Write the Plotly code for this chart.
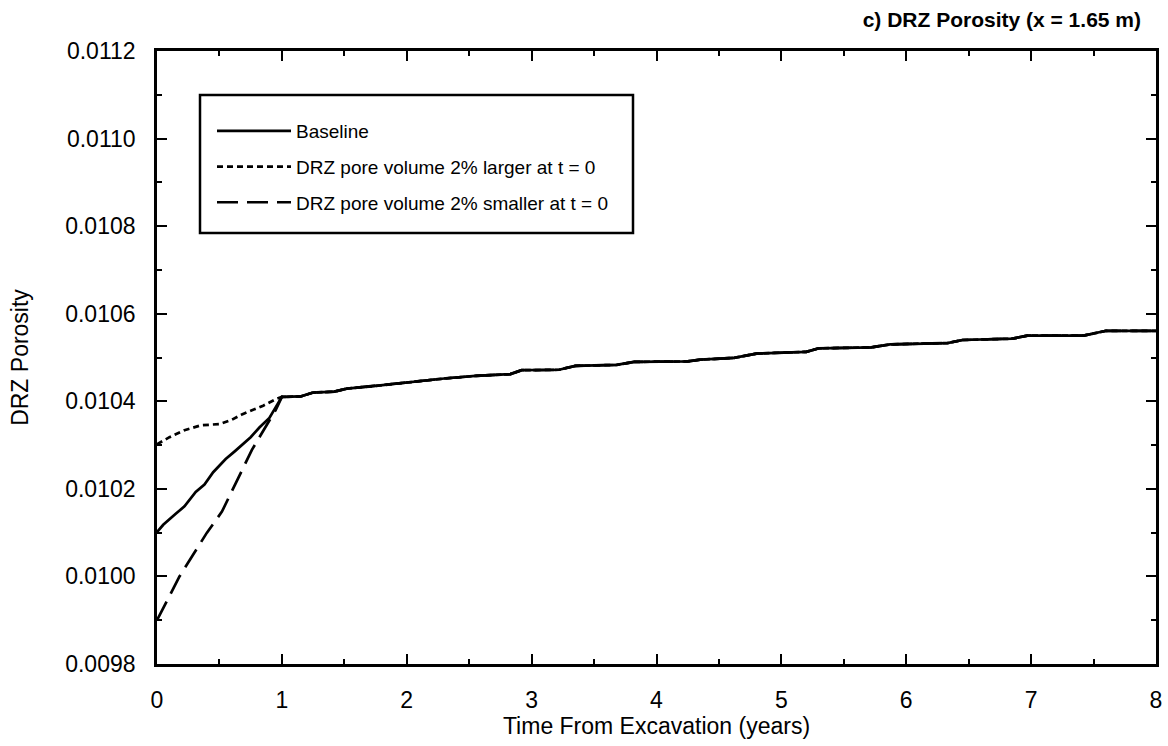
import plotly.graph_objects as go

# ---- data ----
t_base = [0.0, 0.05, 0.15, 0.22, 0.31, 0.38, 0.45, 0.55, 0.62, 0.68, 0.75, 0.82, 0.9, 0.95, 1.0]
p_base = [0.010101, 0.010118, 0.010143, 0.010160, 0.010193, 0.010210, 0.010238, 0.010268,
          0.010285, 0.010300, 0.010318, 0.010340, 0.010362, 0.010386, 0.010410]

t_large = [0.0, 0.1, 0.22, 0.35, 0.5, 0.6, 0.68, 0.85, 0.96, 1.0]
p_large = [0.010302, 0.010318, 0.010334, 0.010345, 0.010348, 0.010358, 0.010370, 0.010390,
           0.010406, 0.010410]

t_small = [0.0, 0.18, 0.4, 0.52, 0.76, 0.95, 1.0]
p_small = [0.009900, 0.010000, 0.010100, 0.010148, 0.010289, 0.010380, 0.010410]

# common late-time behaviour (all three cases converge after ~1 year)
t_late = [1.0, 1.15, 1.25, 1.42, 1.52, 1.75, 2.0, 2.3, 2.55, 2.83, 2.92, 3.22, 3.35, 3.68,
          3.82, 4.25, 4.35, 4.62, 4.8, 5.2, 5.3, 5.72, 5.87, 6.33, 6.45, 6.85, 6.97, 7.42,
          7.6, 8.0]
p_late = [0.010410, 0.010411, 0.010420, 0.010422, 0.010429, 0.010435, 0.010443, 0.010452,
          0.010458, 0.010462, 0.010471, 0.010472, 0.010481, 0.010483, 0.010490, 0.010491,
          0.010495, 0.010499, 0.010509, 0.010513, 0.010521, 0.010523, 0.010530, 0.010533,
          0.010540, 0.010543, 0.010550, 0.010550, 0.010561, 0.010561]

names = ["Baseline",
         "DRZ pore volume 2% larger at t = 0",
         "DRZ pore volume 2% smaller at t = 0"]
dashes = ["solid", "6px,4px", "21px,9px"]

FONT = "Liberation Sans, Arial, Helvetica, sans-serif"

fig = go.Figure()
series = [(t_base, p_base), (t_large, p_large), (t_small, p_small)]
for i, ((tx, py), nm, ds) in enumerate(zip(series, names, dashes)):
    fig.add_trace(go.Scatter(
        x=tx + t_late[1:], y=py + p_late[1:], mode="lines", name=nm,
        legendgroup=f"g{i}",
        line=dict(color="black", width=2.7, dash=ds),
    ))

L, R, T, B = 157, 12, 51, 82
W, H = 1168, 746
pw, ph = W - L - R, H - T - B


def px(x):
    return (x - L) / pw


def py_(y):
    return (H - B - y) / ph


axis_common = dict(
    showgrid=False, zeroline=False, showline=True, linecolor="black", linewidth=2.7,
    mirror="allticks", ticks="inside", ticklen=10, tickwidth=2, tickcolor="black",
    tickfont=dict(family=FONT, size=23, color="black"),
)

fig.update_xaxes(
    range=[0, 8], dtick=1, tick0=0, ticklabelstandoff=14,
    minor=dict(dtick=0.5, ticks="inside", ticklen=5, tickwidth=2, tickcolor="black"),
    title=dict(text="Time From Excavation (years)", font=dict(family=FONT, size=23, color="black"),
               standoff=0),
    **axis_common,
)
fig.update_yaxes(
    range=[0.0098, 0.0112], dtick=0.0002, tick0=0.0098, tickformat=".4f", ticklabelstandoff=14,
    minor=dict(dtick=0.0001, ticks="inside", ticklen=5, tickwidth=2, tickcolor="black"),
    title=dict(text="DRZ Porosity", font=dict(family=FONT, size=23, color="black"),
               standoff=31),
    **axis_common,
)

fig.update_layout(
    width=W, height=H,
    margin=dict(l=L, r=R, t=T, b=B, autoexpand=False),
    paper_bgcolor="white", plot_bgcolor="white",
    font=dict(family=FONT, color="black"),
    title=dict(text="<b>c) DRZ Porosity (x = 1.65 m)</b>", x=1141 / W, xanchor="right",
               y=1 - 20 / H, yanchor="middle", font=dict(family=FONT, size=21, color="black")),
    showlegend=True,
    legend=dict(x=px(212), y=py_(112), xanchor="left", yanchor="top",
                bgcolor="rgba(0,0,0,0)", borderwidth=0,
                font=dict(family=FONT, size=19, color="black"),
                tracegroupgap=8, itemwidth=74),
    shapes=[dict(type="rect", xref="paper", yref="paper",
                 x0=px(200), x1=px(633), y0=py_(233), y1=py_(95),
                 line=dict(color="black", width=2.5), fillcolor="rgba(0,0,0,0)")],
)

fig.write_html("out.html")
